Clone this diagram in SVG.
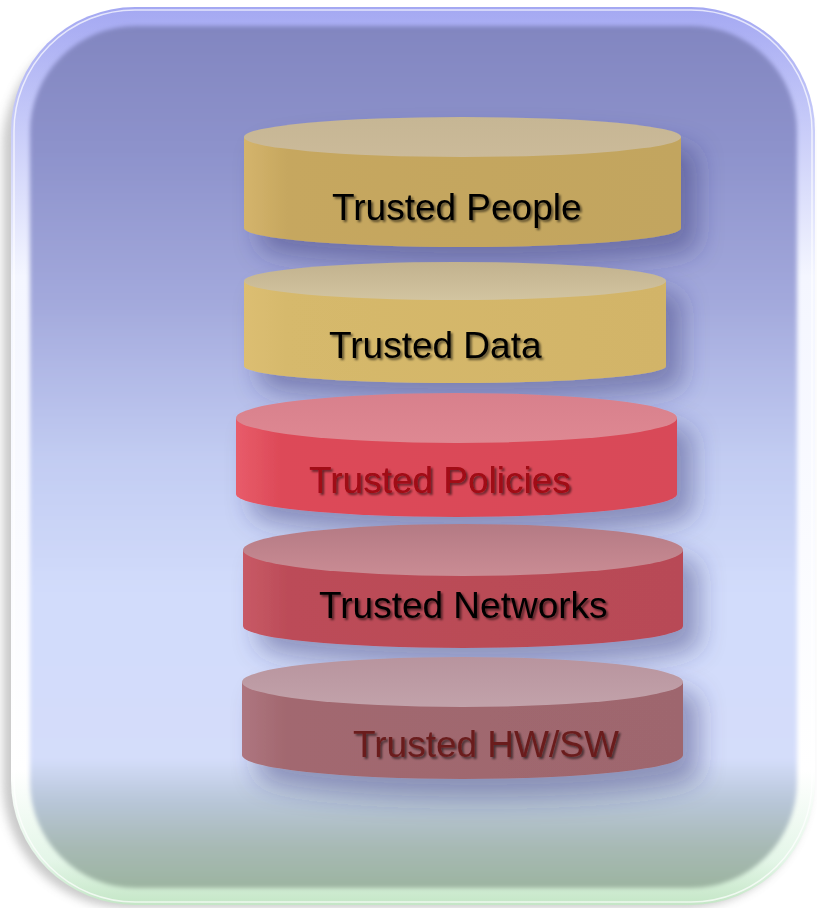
<svg xmlns="http://www.w3.org/2000/svg" width="817" height="908" viewBox="0 0 817 908">
<defs>
  <linearGradient id="rim" x1="0" y1="0" x2="0" y2="1">
    <stop offset="0" stop-color="#a4a8f2"/>
    <stop offset="0.12" stop-color="#c4c8f8"/>
    <stop offset="0.3" stop-color="#f4f6ff"/>
    <stop offset="0.85" stop-color="#ffffff"/>
    <stop offset="0.95" stop-color="#e4f6e8"/>
    <stop offset="1" stop-color="#c4e6c6"/>
  </linearGradient>
  <linearGradient id="panel" gradientUnits="userSpaceOnUse" x1="0" y1="26" x2="0" y2="888">
    <stop offset="0" stop-color="#8286c0"/>
    <stop offset="0.15" stop-color="#8e93cc"/>
    <stop offset="0.32" stop-color="#a3a9dc"/>
    <stop offset="0.5" stop-color="#c2ccf2"/>
    <stop offset="0.66" stop-color="#d2dcfb"/>
    <stop offset="0.85" stop-color="#d4ddfa"/>
    <stop offset="0.9" stop-color="#b8c6d8"/>
    <stop offset="0.95" stop-color="#a8bab6"/>
    <stop offset="1" stop-color="#9cb4a0"/>
  </linearGradient>
  <filter id="blur2" x="-5%" y="-5%" width="110%" height="110%"><feGaussianBlur stdDeviation="2"/></filter>
  <filter id="blur5" x="-5%" y="-5%" width="110%" height="110%"><feGaussianBlur stdDeviation="5"/></filter>
  <filter id="cylShadow" x="-20%" y="-50%" width="150%" height="220%">
    <feDropShadow dx="16" dy="18" stdDeviation="13" flood-color="#2a2c6a" flood-opacity="0.42"/>
  </filter>
  <filter id="txtShadow" x="-10%" y="-30%" width="120%" height="160%">
    <feDropShadow dx="2" dy="2" stdDeviation="1.3" flood-color="#000000" flood-opacity="0.55"/>
  </filter>
  <linearGradient id="bPeople" x1="0" y1="0" x2="1" y2="0">
    <stop offset="0" stop-color="#d4b46c"/><stop offset="0.1" stop-color="#c6a75f"/><stop offset="1" stop-color="#c2a55e"/>
  </linearGradient>
  <linearGradient id="tPeople" x1="0" y1="0" x2="0" y2="1">
    <stop offset="0" stop-color="#c6b694"/><stop offset="1" stop-color="#cbba99"/>
  </linearGradient>
  <linearGradient id="bData" x1="0" y1="0" x2="1" y2="0">
    <stop offset="0" stop-color="#dcbe72"/><stop offset="0.1" stop-color="#d6b96c"/><stop offset="1" stop-color="#d2b468"/>
  </linearGradient>
  <linearGradient id="tData" x1="0" y1="0" x2="0" y2="1">
    <stop offset="0" stop-color="#c2b28e"/><stop offset="1" stop-color="#d2c4a0"/>
  </linearGradient>
  <linearGradient id="bPol" x1="0" y1="0" x2="1" y2="0">
    <stop offset="0" stop-color="#e85c6a"/><stop offset="0.1" stop-color="#dd4a58"/><stop offset="1" stop-color="#d84a58"/>
  </linearGradient>
  <linearGradient id="tPol" x1="0" y1="0" x2="0" y2="1">
    <stop offset="0" stop-color="#d8808c"/><stop offset="1" stop-color="#de8892"/>
  </linearGradient>
  <linearGradient id="bNet" x1="0" y1="0" x2="1" y2="0">
    <stop offset="0" stop-color="#c85a66"/><stop offset="0.1" stop-color="#bc4c58"/><stop offset="1" stop-color="#b84a56"/>
  </linearGradient>
  <linearGradient id="tNet" x1="0" y1="0" x2="0" y2="1">
    <stop offset="0" stop-color="#b47a84"/><stop offset="1" stop-color="#ca8c94"/>
  </linearGradient>
  <linearGradient id="bHw" x1="0" y1="0" x2="1" y2="0">
    <stop offset="0" stop-color="#ae7680"/><stop offset="0.1" stop-color="#a2686f"/><stop offset="1" stop-color="#9e666e"/>
  </linearGradient>
  <linearGradient id="tHw" x1="0" y1="0" x2="0" y2="1">
    <stop offset="0" stop-color="#b8949e"/><stop offset="1" stop-color="#c2a2aa"/>
  </linearGradient>
</defs>
<style>
  .lbl { font-family: "Liberation Sans", Arial, sans-serif; font-size: 37px; filter: url(#txtShadow); }
</style>

<rect width="817" height="908" fill="#ffffff"/>

<g id="frame">
  <rect x="3" y="22" width="806" height="886" rx="124" fill="#8a8a8a" opacity="0.45" filter="url(#blur5)"/>
  <rect x="11" y="7" width="804" height="898" rx="124" fill="url(#rim)"/>
  <rect x="14" y="10" width="798" height="892" rx="121" fill="none" stroke="#ffffff" stroke-opacity="0.7" stroke-width="1.5"/>
  <rect x="30" y="26" width="767" height="862" rx="106" fill="url(#panel)" filter="url(#blur2)"/>
</g>

<g id="trusted-people">
  <g filter="url(#cylShadow)">
    <path d="M244,137 L244,228 A218.5,19 0 0 0 681,228 L681,137 Z" fill="url(#bPeople)"/>
    <ellipse cx="462.5" cy="137" rx="218.5" ry="20" fill="url(#tPeople)"/>
  </g>
  <text class="lbl" x="332" y="220" fill="#000000">Trusted People</text>
</g>

<g id="trusted-data">
  <g filter="url(#cylShadow)">
    <path d="M244,281 L244,366 A211,17 0 0 0 666,366 L666,281 Z" fill="url(#bData)"/>
    <ellipse cx="455" cy="281" rx="211" ry="19" fill="url(#tData)"/>
  </g>
  <text class="lbl" x="329" y="358" fill="#000000">Trusted Data</text>
</g>

<g id="trusted-policies">
  <g filter="url(#cylShadow)">
    <path d="M236,418 L236,494 A220.5,23 0 0 0 677,494 L677,418 Z" fill="url(#bPol)"/>
    <ellipse cx="456.5" cy="418" rx="220.5" ry="25" fill="url(#tPol)"/>
  </g>
  <text class="lbl" x="309" y="493" fill="#a00812">Trusted Policies</text>
</g>

<g id="trusted-networks">
  <g filter="url(#cylShadow)">
    <path d="M243,550 L243,626 A220,22 0 0 0 683,626 L683,550 Z" fill="url(#bNet)"/>
    <ellipse cx="463" cy="550" rx="220" ry="26" fill="url(#tNet)"/>
  </g>
  <text class="lbl" x="319" y="618" fill="#000000">Trusted Networks</text>
</g>

<g id="trusted-hwsw">
  <g filter="url(#cylShadow)">
    <path d="M242,682 L242,755 A220.5,24 0 0 0 683,755 L683,682 Z" fill="url(#bHw)"/>
    <ellipse cx="462.5" cy="682" rx="220.5" ry="25" fill="url(#tHw)"/>
  </g>
  <text class="lbl" x="353" y="757" fill="#6a1c1c">Trusted HW/SW</text>
</g>

<g id="connectors"/>
</svg>
